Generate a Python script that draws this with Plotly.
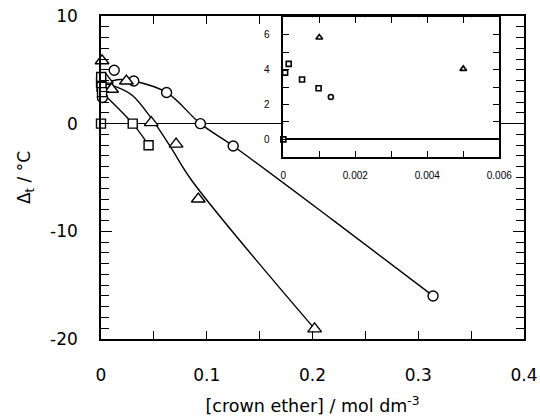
import plotly.graph_objects as go

# ---- data ----
circle_x = [0.00132, 0.0125, 0.031, 0.062, 0.094, 0.125, 0.314]
circle_y = [2.43, 4.96, 3.96, 2.9, 0.0, -2.07, -16.0]
tri_x = [0.001, 0.005, 0.010, 0.024, 0.0475, 0.071, 0.092, 0.202]
tri_y = [5.84, 4.04, 3.2, 3.96, 0.1, -1.9, -7.0, -19.06]
sq_x = [0.0, 0.00005, 0.00015, 0.00052, 0.00098, 0.030, 0.045]
sq_y = [0.0, 3.83, 4.33, 3.43, 2.93, 0.0, -2.0]

# smooth guide curves (control points)
circ_fit_x = [0.004, 0.018, 0.031, 0.062, 0.094, 0.125, 0.22, 0.314]
circ_fit_y = [3.8, 4.1, 3.96, 2.9, 0.0, -2.07, -9.0, -16.0]
tri_fit_x = [0.004, 0.015, 0.03, 0.049, 0.066, 0.086, 0.202]
tri_fit_y = [3.7, 3.4, 2.6, 0.3, -2.2, -5.3, -19.06]
sq_fit_x = [0.001, 0.030, 0.045]
sq_fit_y = [2.9, 0.0, -2.0]

# inset data
in_sq_x = [0.0, 0.00005, 0.00015, 0.00052, 0.00098]
in_sq_y = [0.0, 3.83, 4.33, 3.43, 2.93]
in_ci_x = [0.00132]
in_ci_y = [2.43]
in_tr_x = [0.001, 0.005]
in_tr_y = [5.84, 4.04]

x_tickvals = [0, 0.1, 0.2, 0.3, 0.4]
x_ticktext = ["0", "0.1", "0.2", "0.3", "0.4"]
y_tickvals = [-20, -10, 0, 10]
y_ticktext = ["-20", "-10", "0", "10"]

FONT = "DejaVu Sans, Arial, sans-serif"
BLK = "black"

fig = go.Figure()

line_style = dict(color=BLK, width=1.4, shape="spline", smoothing=1.0)
for fx, fy in [(circ_fit_x, circ_fit_y), (tri_fit_x, tri_fit_y), (sq_fit_x, sq_fit_y)]:
    fig.add_trace(go.Scatter(x=fx, y=fy, mode="lines", line=line_style,
                             showlegend=False, hoverinfo="skip", xaxis="x", yaxis="y"))

mk = dict(color="white", line=dict(color=BLK, width=1.4))
fig.add_trace(go.Scatter(x=circle_x, y=circle_y, mode="markers", cliponaxis=False,
                         marker=dict(symbol="circle", size=10, **mk), showlegend=False))
fig.add_trace(go.Scatter(x=tri_x, y=tri_y, mode="markers", cliponaxis=False,
                         marker=dict(symbol="triangle-up", size=12, **mk), showlegend=False))
fig.add_trace(go.Scatter(x=sq_x, y=sq_y, mode="markers", cliponaxis=False,
                         marker=dict(symbol="square", size=9, **mk), showlegend=False))

mk2 = dict(color="white", line=dict(color=BLK, width=1.6))
fig.add_trace(go.Scatter(x=in_sq_x, y=in_sq_y, mode="markers", cliponaxis=False,
                         marker=dict(symbol="square", size=5, **mk2), showlegend=False,
                         xaxis="x2", yaxis="y2"))
fig.add_trace(go.Scatter(x=in_ci_x, y=in_ci_y, mode="markers", cliponaxis=False,
                         marker=dict(symbol="circle", size=5, **mk2), showlegend=False,
                         xaxis="x2", yaxis="y2"))
fig.add_trace(go.Scatter(x=in_tr_x, y=in_tr_y, mode="markers", cliponaxis=False,
                         marker=dict(symbol="triangle-up", size=6, **mk2), showlegend=False,
                         xaxis="x2", yaxis="y2"))

fig.update_layout(
    template="none",
    width=540, height=416,
    margin=dict(l=101, r=16, t=16, b=77, pad=0),
    paper_bgcolor="white", plot_bgcolor="white",
    font=dict(family=FONT, color=BLK),
    xaxis=dict(
        range=[0, 0.4], domain=[0, 1], automargin=False,
        tickvals=x_tickvals, ticktext=x_ticktext,
        ticks="inside", ticklen=8, tickwidth=1.4, tickcolor=BLK,
        minor=dict(dtick=0.05, ticks="inside", ticklen=8, tickwidth=1.4, tickcolor=BLK),
        showline=True, linecolor=BLK, linewidth=1.5, mirror="ticks",
        showgrid=False, zeroline=False,
        tickfont=dict(size=17), ticklabelstandoff=20,
        title=dict(text="[crown ether] / mol dm<sup>-3</sup>", font=dict(size=17.5), standoff=21),
    ),
    yaxis=dict(
        range=[-20, 10], domain=[0, 1], automargin=False,
        tickvals=y_tickvals, ticktext=y_ticktext,
        ticks="inside", ticklen=11, tickwidth=1.4, tickcolor=BLK,
        minor=dict(dtick=1, ticks="inside", ticklen=8, tickwidth=1.2, tickcolor=BLK),
        showline=True, linecolor=BLK, linewidth=1.5, mirror="ticks",
        showgrid=False, zeroline=True, zerolinecolor=BLK, zerolinewidth=1,
        tickfont=dict(size=17), ticklabelstandoff=18,
        title=dict(text="Δ<sub>t</sub> / °C", font=dict(size=17), standoff=15),
    ),
    xaxis2=dict(
        range=[0, 0.006], domain=[0.431, 0.9416], anchor="y2", automargin=False,
        dtick=0.002, tick0=0,
        ticks="inside", ticklen=6, tickwidth=1.4, tickcolor=BLK,
        minor=dict(dtick=0.001, ticks="inside", ticklen=6, tickwidth=1.4, tickcolor=BLK),
        showline=True, linecolor=BLK, linewidth=1.6, mirror="ticks",
        showgrid=False, zeroline=False,
        tickfont=dict(size=10, family="Arial, Liberation Sans"), ticklabelstandoff=8,
    ),
    yaxis2=dict(
        range=[-1, 7], domain=[0.564, 0.996], anchor="x2", automargin=False,
        dtick=2, tick0=0,
        ticks="inside", ticklen=6, tickwidth=1.4, tickcolor=BLK,
        minor=dict(dtick=1, ticks="inside", ticklen=6, tickwidth=1.4, tickcolor=BLK),
        showline=True, linecolor=BLK, linewidth=1.6, mirror="ticks",
        showgrid=False, zeroline=True, zerolinecolor=BLK, zerolinewidth=1.6,
        tickfont=dict(size=10, family="Arial, Liberation Sans"), ticklabelstandoff=10,
    ),
)

fig.write_html("out.html")
